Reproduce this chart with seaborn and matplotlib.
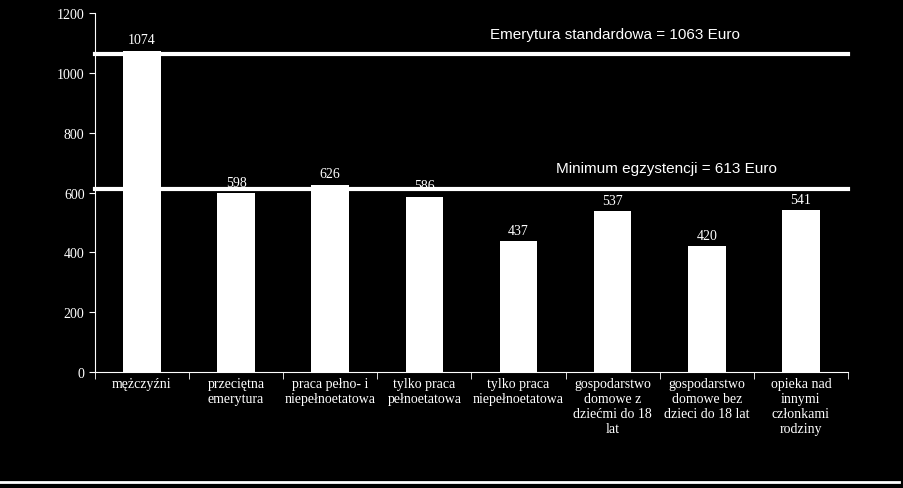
import matplotlib
matplotlib.use("Agg")
import matplotlib.pyplot as plt
import seaborn as sns
import pandas as pd
import numpy as np

categories = ["mężczyźni", "przeciętna\nemerytura", "praca pełno- i\nniepełnoetatowa",
              "tylko praca\npełnoetatowa", "tylko praca\nniepełnoetatowa",
              "gospodarstwo\ndomowe z\ndziećmi do 18\nlat", "gospodarstwo\ndomowe bez\ndzieci do 18 lat",
              "opieka nad\ninnymi\nczłonkami\nrodziny"]
values = [1074, 598, 626, 586, 437, 537, 420, 541]
ref_values = [1063, 613]
ref_labels = ["Emerytura standardowa = 1063 Euro", "Minimum egzystencji = 613 Euro"]
yticks = [0, 200, 400, 600, 800, 1000, 1200]

df = pd.DataFrame({"cat": categories, "val": values})
fig = plt.figure(figsize=(9.04, 4.89), dpi=100, facecolor="black")
ax = fig.add_axes([0.105, 0.237, 0.833, 0.734], facecolor="black")
sns.barplot(data=df, x="cat", y="val", color="white", width=0.4, ax=ax, saturation=1)
ax.set_xlim(-0.5, 7.5)
ax.set_ylim(0, 1200)
ax.set_yticks(yticks)
ax.set_xticks(np.arange(-0.5, 8, 1), minor=True)
ax.set_xlabel(""); ax.set_ylabel("")
serif = "Liberation Serif"
ax.tick_params(colors="white", labelcolor="white", length=4)
ax.tick_params(axis="x", which="major", length=0)
ax.tick_params(axis="x", which="minor", length=5, colors="white")
for lbl in ax.get_yticklabels():
    lbl.set_fontfamily(serif); lbl.set_fontsize(10)
for lbl in ax.get_xticklabels():
    lbl.set_fontfamily(serif); lbl.set_fontsize(10); lbl.set_linespacing(1.2)
for s in ["top", "right"]:
    ax.spines[s].set_visible(False)
for s in ["left", "bottom"]:
    ax.spines[s].set_color("white")
for i, v in enumerate(values):
    ax.text(i, v + 15, str(v), ha="center", va="bottom", color="white", fontfamily=serif, fontsize=10)
for rv, rl, xp in zip(ref_values, ref_labels, [3.7, 4.4]):
    ax.axhline(rv, color="white", lw=3, clip_on=False)
    ax.text(xp, rv + 45, rl, ha="left", va="bottom", color="white", fontfamily="Liberation Sans", fontsize=11)
fig.add_artist(plt.Line2D([0.0, 0.995], [0.012, 0.012], color="white", lw=2, transform=fig.transFigure))
fig.savefig("out.png", dpi=100, facecolor="black")
